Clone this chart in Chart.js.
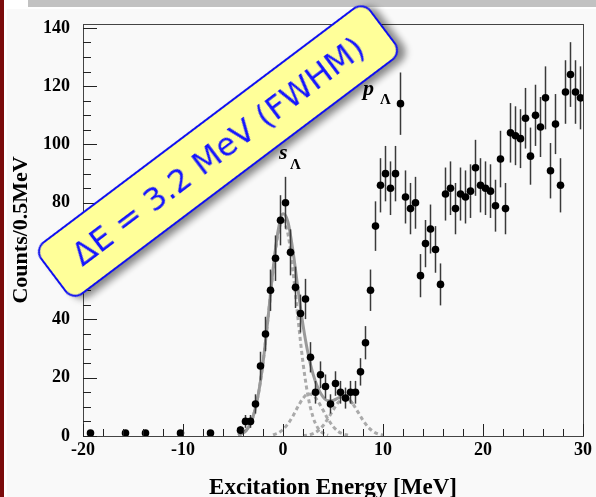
<!DOCTYPE html>
<html>
<head>
<meta charset="utf-8">
<script src="https://cdn.jsdelivr.net/npm/chart.js"></script>
<style>
  html, body { margin: 0; padding: 0; background: #ffffff; }
  #wrap { position: relative; width: 596px; height: 497px; overflow: hidden; background: #ffffff; }
  #redbar { position: absolute; left: 0; top: 0; width: 4px; height: 497px; background: #7b0c0c; }
  #greybar { position: absolute; left: 28px; top: 0; width: 568px; height: 7px; background: #c2c2c2; }
  #panel { position: absolute; left: 7px; top: 9px; width: 589px; height: 488px; background: #f9f9f9; }
  #grafico { position: absolute; left: 0; top: 0; }
  #etiqueta {
    position: absolute; left: 11px; top: 118px; width: 414px; height: 66px;
    box-sizing: border-box; background: #ffff99; border: 2px solid #1010f0; border-radius: 13px;
    box-shadow: 5px 6px 7px rgba(0,0,0,0.45);
    transform: rotate(-37deg); transform-origin: 50% 50%;
    font-family: "DejaVu Sans", sans-serif; font-size: 32px; color: #1414ff;
    text-align: center; line-height: 62px; white-space: nowrap;
  }
</style>
</head>
<body>
<div id="wrap">
  <div id="redbar"></div>
  <div id="greybar"></div>
  <div id="panel"></div>
  <canvas id="grafico" width="596" height="497"></canvas>
  <div id="etiqueta">ΔE = 3.2 MeV (FWHM)</div>
</div>
<script>
// datos medidos (cuentas por bin de 0.5 MeV)
const energia = [-19.25, -15.75, -13.75, -10.25, -7.25,
  -4.25, -3.75, -3.25, -2.75, -2.25, -1.75, -1.25, -0.75, -0.25,
  0.25, 0.75, 1.25, 1.75, 2.25, 2.75, 3.25, 3.75, 4.25, 4.75,
  5.25, 5.75, 6.25, 6.75, 7.25, 7.75, 8.25, 8.75, 9.25, 9.75,
  10.25, 10.75, 11.25, 11.75, 12.25, 12.75, 13.25, 13.75, 14.25, 14.75,
  15.25, 15.75, 16.25, 16.75, 17.25, 17.75, 18.25, 18.75, 19.25, 19.75,
  20.25, 20.75, 21.25, 21.75, 22.25, 22.75, 23.25, 23.75, 24.25, 24.75,
  25.25, 25.75, 26.25, 26.75, 27.25, 27.75, 28.25, 28.75, 29.25, 29.75];
const cuentas = [1, 1, 1, 1, 1,
  2, 5, 5, 11, 24, 35, 50, 61, 74,
  80, 63, 51, 42, 47, 27, 15, 21, 17, 11,
  18, 15, 13, 15, 15, 22, 32, 50, 72, 86,
  90, 85, 90, 114, 82, 78, 80, 55, 66, 71,
  64, 52, 83, 85, 78, 83, 82, 84, 92, 86,
  85, 84, 79, 95, 78, 104, 103, 102, 109, 96,
  110, 106, 116, 91, 107, 86, 118, 124, 118, 116];
const errores = [1, 1, 1, 1, 1,
  1.4, 2.2, 2.2, 3.3, 4.9, 5.9, 7.1, 7.8, 8.6,
  8.9, 7.9, 7.1, 6.5, 6.9, 5.2, 3.9, 4.6, 4.1, 3.3,
  4.2, 3.9, 3.6, 3.9, 3.9, 4.7, 5.7, 7.1, 8.5, 9.3,
  9.5, 9.2, 9.5, 10.7, 9.1, 8.8, 8.9, 7.4, 8.1, 8.4,
  8.0, 7.2, 9.1, 9.2, 8.8, 9.1, 9.1, 9.2, 9.6, 9.3,
  9.2, 9.2, 8.9, 9.7, 8.8, 10.2, 10.1, 10.1, 10.4, 9.8,
  10.5, 10.3, 10.8, 9.5, 10.3, 9.3, 10.9, 11.1, 10.9, 10.8];

// curvas del ajuste
const ajusteX = [-4.5, -4, -3.5, -3, -2.5, -2, -1.5, -1, -0.5, 0, 0.5, 1, 1.5, 2, 2.5, 3, 3.5, 4, 4.5, 5, 5.5, 6, 6.5, 7];
const ajusteY = [0.3, 1.0, 2.7, 6.5, 13.7, 25.1, 40.4, 56.9, 70.2, 76.2, 73.4, 63.4, 50.4, 38.1, 28.4, 21.3, 16.4, 13.4, 12.1, 12.2, 13.0, 13.6, 13.0, 11.0];
const picoSX = [-4.5, -4, -3.5, -3, -2.5, -2, -1.5, -1, -0.5, 0, 0.5, 1, 1.5, 2, 2.5, 3, 3.5, 4, 4.5];
const picoSY = [0.3, 1.0, 2.7, 6.5, 13.7, 25.1, 40.3, 56.5, 69.2, 74, 69.2, 56.5, 40.3, 25.1, 13.7, 6.5, 2.7, 1.0, 0.3];
const pico2X = [-1, -0.5, 0, 0.5, 1, 1.5, 2, 2.5, 3, 3.5, 4, 4.5, 5, 5.5, 6, 6.5];
const pico2Y = [0.4, 1.0, 2.2, 4.2, 6.9, 10.1, 12.9, 14.4, 14.0, 11.9, 8.9, 5.8, 3.3, 1.6, 0.7, 0.3];
const pico3X = [2, 2.5, 3, 3.5, 4, 4.5, 5, 5.5, 6, 6.5, 7, 7.5, 8, 8.5, 9, 9.5, 10];
const pico3Y = [0.1, 0.3, 0.8, 1.8, 3.5, 6.0, 8.8, 11.4, 12.9, 12.7, 10.9, 8.2, 5.4, 3.1, 1.6, 0.7, 0.3];

const ticksX = [-20, -10, 0, 10, 20, 30];
const ticksY = [0, 20, 40, 60, 80, 100, 120, 140];

// etiquetas s_Λ y p_Λ (coordenadas en unidades de datos)
const etiquetas = [
  { letra: 's', x: -0.4, y: 95, subX: 0.7, subY: 91.5 },
  { letra: 'p', x: 8.0, y: 117, subX: 9.7, subY: 114 }
];

const pares = (xs, ys) => xs.map((x, i) => ({ x: x, y: ys[i] }));

const marcoPlugin = {
  id: 'marco',
  beforeDatasetDraw(chart, args) {
    if (args.index !== 0) return;
    const ctx = chart.ctx, sx = chart.scales.x, sy = chart.scales.y;
    ctx.save();
    ctx.strokeStyle = '#3a3a3a';
    ctx.lineWidth = 1.5;
    energia.forEach((e, i) => {
      const px = sx.getPixelForValue(e);
      ctx.beginPath();
      ctx.moveTo(px, sy.getPixelForValue(cuentas[i] - errores[i]));
      ctx.lineTo(px, sy.getPixelForValue(cuentas[i] + errores[i]));
      ctx.stroke();
    });
    ctx.restore();
  },
  afterDraw(chart) {
    const ctx = chart.ctx, a = chart.chartArea, sx = chart.scales.x, sy = chart.scales.y;
    ctx.save();
    ctx.strokeStyle = '#444';
    ctx.lineWidth = 1;
    ctx.strokeRect(Math.round(a.left) + 0.5, Math.round(a.top) + 0.5, Math.round(a.right - a.left), Math.round(a.bottom - a.top));
    ctx.strokeStyle = '#222';
    ctx.beginPath();
    for (let v = -20; v <= 30; v += 2) {
      const px = Math.round(sx.getPixelForValue(v)) + 0.5;
      const len = v % 10 === 0 ? 12 : 7;
      ctx.moveTo(px, a.bottom);
      ctx.lineTo(px, a.bottom - len);
    }
    for (let v = 0; v <= 140; v += 5) {
      const py = Math.round(sy.getPixelForValue(v)) + 0.5;
      const len = v % 20 === 0 ? 14 : 8;
      ctx.moveTo(a.left, py);
      ctx.lineTo(a.left + len, py);
    }
    ctx.stroke();
    // etiquetas de los picos
    ctx.fillStyle = '#000';
    ctx.textBaseline = 'alphabetic';
    etiquetas.forEach(t => {
      ctx.font = 'italic bold 22px "Liberation Serif"';
      ctx.fillText(t.letra, sx.getPixelForValue(t.x), sy.getPixelForValue(t.y));
      ctx.font = 'bold 15px "Liberation Serif"';
      ctx.fillText('Λ', sx.getPixelForValue(t.subX), sy.getPixelForValue(t.subY));
    });
    ctx.restore();
  }
};

const fuenteEje = { family: '"Liberation Serif", serif', size: 18, weight: 'bold' };

new Chart(document.getElementById('grafico').getContext('2d'), {
  type: 'scatter',
  data: {
    datasets: [
      {
        label: 'datos',
        data: pares(energia, cuentas),
        pointRadius: 3.8,
        pointBackgroundColor: '#000',
        pointBorderWidth: 0,
        showLine: false
      },
      {
        label: 'ajuste',
        data: pares(ajusteX, ajusteY),
        showLine: true,
        borderColor: '#9a9a9a',
        borderWidth: 3,
        pointRadius: 0,
        cubicInterpolationMode: 'monotone'
      },
      {
        label: 'pico s',
        data: pares(picoSX, picoSY),
        showLine: true,
        borderColor: '#aaaaaa',
        borderWidth: 3,
        borderDash: [4, 3],
        pointRadius: 0,
        cubicInterpolationMode: 'monotone'
      },
      {
        label: 'pico 2',
        data: pares(pico2X, pico2Y),
        showLine: true,
        borderColor: '#aaaaaa',
        borderWidth: 3,
        borderDash: [4, 3],
        pointRadius: 0,
        cubicInterpolationMode: 'monotone'
      },
      {
        label: 'pico 3',
        data: pares(pico3X, pico3Y),
        showLine: true,
        borderColor: '#aaaaaa',
        borderWidth: 3,
        borderDash: [4, 3],
        pointRadius: 0,
        cubicInterpolationMode: 'monotone'
      }
    ]
  },
  options: {
    responsive: false,
    animation: false,
    devicePixelRatio: 1,
    layout: { padding: { top: 23, right: 8, left: 0, bottom: 0 } },
    plugins: { legend: { display: false }, tooltip: { enabled: false } },
    scales: {
      x: {
        type: 'linear',
        min: -20,
        max: 30,
        afterBuildTicks: s => { s.ticks = ticksX.map(v => ({ value: v })); },
        afterFit: s => { s.height = 61; },
        grid: { display: false, drawTicks: false },
        border: { display: false },
        ticks: { color: '#000', font: fuenteEje, padding: 4, maxRotation: 0 },
        title: {
          display: true, text: 'Excitation Energy [MeV]', color: '#000', padding: 0,
          font: { family: '"Liberation Serif", serif', size: 23, weight: 'bold', lineHeight: '17px' }
        }
      },
      y: {
        type: 'linear',
        min: 0,
        max: 141.4,
        afterBuildTicks: s => { s.ticks = ticksY.map(v => ({ value: v })); },
        afterFit: s => { s.width = 83; },
        grid: { display: false, drawTicks: false },
        border: { display: false },
        ticks: { color: '#000', font: fuenteEje, padding: 13 },
        title: {
          display: true, text: 'Counts/0.5MeV', color: '#000', padding: { top: 15, bottom: 0 },
          font: { family: '"Liberation Serif", serif', size: 22, weight: 'bold', lineHeight: '12px' }
        }
      }
    }
  },
  plugins: [marcoPlugin]
});
</script>
</body>
</html>
